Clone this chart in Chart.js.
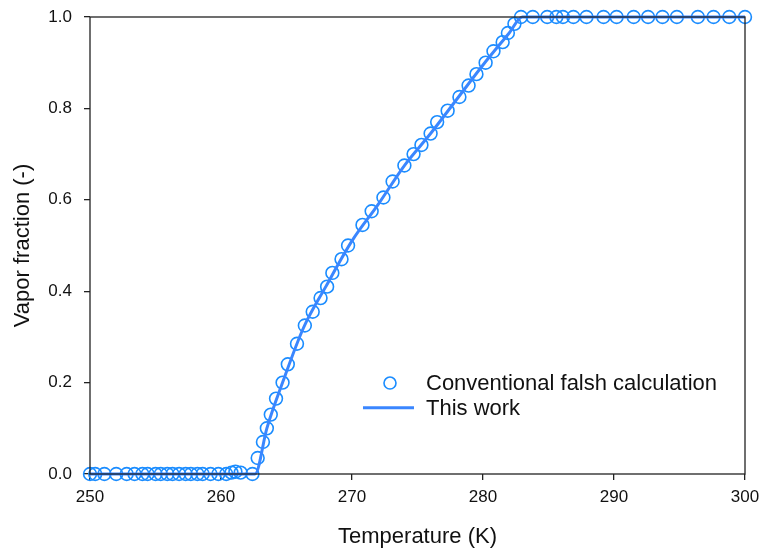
<!DOCTYPE html>
<html>
<head>
<meta charset="utf-8">
<script src="https://cdn.jsdelivr.net/npm/chart.js@4/dist/chart.umd.min.js"></script>
<style>
  html, body { margin: 0; padding: 0; background: #fff; }
  #wrap { width: 763px; height: 556px; }
</style>
</head>
<body>
<div id="wrap"><canvas id="chart" width="763" height="556"></canvas></div>
<script>
// Conventional flash calculation (markers)
const flashT = [250.0, 250.4, 251.1, 252.0, 252.8, 253.4, 254.0, 254.4, 255.0, 255.4, 255.9, 256.3,
  256.8, 257.3, 257.7, 258.2, 258.6, 259.2, 259.8, 260.4, 260.8, 261.1, 261.5, 262.4,
  262.8, 263.2, 263.5, 263.8, 264.2, 264.7, 265.1, 265.8, 266.4, 267.0, 267.6, 268.1,
  268.5, 269.2, 269.7, 270.8, 271.5, 272.4, 273.1, 274.0, 274.7, 275.3, 276.0, 276.5,
  277.3, 278.2, 278.9, 279.5, 280.2, 280.8, 281.5, 281.9, 282.4, 282.9,
  283.8, 284.9, 285.6, 286.1, 286.9, 287.9, 289.2, 290.2, 291.5, 292.6, 293.7, 294.8,
  296.4, 297.6, 298.8, 300.0];
const flashV = [0, 0, 0, 0, 0, 0, 0, 0, 0, 0, 0, 0,
  0, 0, 0, 0, 0, 0, 0, 0, 0.003, 0.005, 0.003, 0,
  0.035, 0.07, 0.10, 0.13, 0.165, 0.20, 0.24, 0.285, 0.325, 0.355, 0.385, 0.41,
  0.44, 0.47, 0.50, 0.545, 0.575, 0.605, 0.64, 0.675, 0.70, 0.72, 0.745, 0.77,
  0.795, 0.825, 0.85, 0.875, 0.90, 0.925, 0.945, 0.965, 0.985, 1.0,
  1, 1, 1, 1, 1, 1, 1, 1, 1, 1, 1, 1,
  1, 1, 1, 1];

// This work (line)
const workT = [250, 262.6, 263.5, 264.7, 266.3, 268.0, 270.0, 272.0, 274.0, 276.0, 278.0, 280.0, 282.0, 283.0, 300];
const workV = [0, 0, 0.10, 0.20, 0.32, 0.41, 0.51, 0.59, 0.675, 0.745, 0.82, 0.895, 0.965, 1.0, 1.0];

const xTicks = [250, 260, 270, 280, 290, 300];
const yTicks = [0, 0.2, 0.4, 0.6, 0.8, 1.0];

const blueMarker = '#1a8cff';
const blueLine = '#3a86ff';
const font = 'Arial, "Liberation Sans", sans-serif';

// box round the plot area + legend inside
const boxLegend = {
  id: 'boxLegend',
  afterDraw(chart) {
    const { ctx, chartArea: a } = chart;
    ctx.save();
    ctx.strokeStyle = '#222';
    ctx.lineWidth = 1.3;
    ctx.strokeRect(a.left, a.top, a.right - a.left, a.bottom - a.top);

    const w = a.right - a.left, h = a.bottom - a.top;
    const lx = a.left + w * 0.458, ly1 = a.top + h * 0.801, ly2 = a.top + h * 0.855;
    ctx.strokeStyle = blueMarker;
    ctx.lineWidth = 1.6;
    ctx.beginPath();
    ctx.arc(lx, ly1, 6, 0, Math.PI * 2);
    ctx.stroke();
    ctx.strokeStyle = blueLine;
    ctx.lineWidth = 3;
    ctx.beginPath();
    ctx.moveTo(lx - 27, ly2);
    ctx.lineTo(lx + 24, ly2);
    ctx.stroke();
    ctx.fillStyle = '#111';
    ctx.font = '22px ' + font;
    ctx.textBaseline = 'middle';
    ctx.fillText('Conventional falsh calculation', lx + 36, ly1 + 1);
    ctx.fillText('This work', lx + 36, ly2 + 1);
    ctx.restore();
  }
};

// drop the label overhang so layout padding alone sets the plot edges
const noOverhang = s => { s.paddingTop = 0; s.paddingRight = 0; s.paddingLeft = 0; s.paddingBottom = 0; };

new Chart(document.getElementById('chart'), {
  type: 'scatter',
  data: {
    datasets: [
      {
        label: 'This work',
        data: workT.map((t, i) => ({ x: t, y: workV[i] })),
        showLine: true,
        borderColor: blueLine,
        borderWidth: 3,
        pointRadius: 0,
        cubicInterpolationMode: 'monotone',
        order: 1
      },
      {
        label: 'Conventional falsh calculation',
        data: flashT.map((t, i) => ({ x: t, y: flashV[i] })),
        showLine: false,
        pointStyle: 'circle',
        pointRadius: 6.4,
        pointBorderWidth: 1.6,
        borderColor: blueMarker,
        backgroundColor: 'rgba(0,0,0,0)',
        order: 2
      }
    ]
  },
  options: {
    responsive: false,
    animation: false,
    clip: false,
    layout: { padding: { left: 0, right: 18, top: 17, bottom: 0 } },
    plugins: { legend: { display: false }, tooltip: { enabled: false } },
    scales: {
      x: {
        type: 'linear', min: 250, max: 300,
        afterBuildTicks: s => { s.ticks = xTicks.map(v => ({ value: v })); },
        afterFit: s => { s.height = 82; noOverhang(s); },
        grid: { display: true, drawOnChartArea: false, tickLength: 6, color: '#222', lineWidth: 1.3 },
        border: { display: false },
        ticks: { color: '#111', font: { size: 17, family: font }, padding: 7, maxRotation: 0 },
        title: { display: true, text: 'Temperature (K)', color: '#111', font: { size: 22, family: font }, padding: { top: 4, bottom: 6 } }
      },
      y: {
        type: 'linear', min: 0, max: 1,
        afterBuildTicks: s => { s.ticks = yTicks.map(v => ({ value: v })); },
        afterFit: s => { s.width = 90; noOverhang(s); },
        grid: { display: true, drawOnChartArea: false, tickLength: 6, color: '#222', lineWidth: 1.3 },
        border: { display: false },
        ticks: { color: '#111', font: { size: 17, family: font }, padding: 12, callback: v => v.toFixed(1) },
        title: { display: true, text: 'Vapor fraction (-)', color: '#111', font: { size: 22, family: font }, padding: { top: 10, bottom: 4 } }
      }
    }
  },
  plugins: [boxLegend]
});
</script>
</body>
</html>
